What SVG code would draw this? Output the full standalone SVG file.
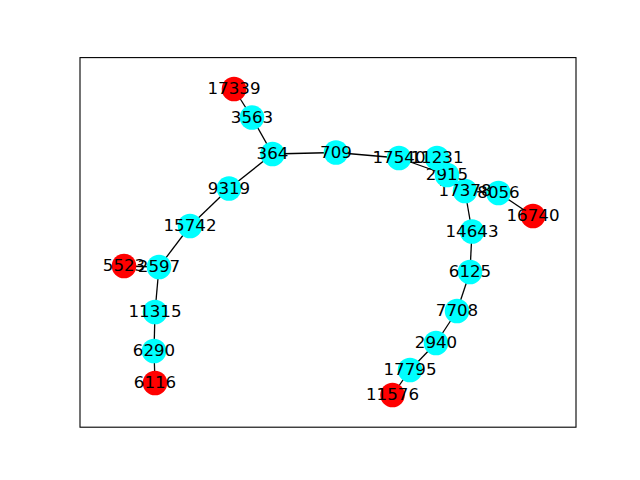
<svg xmlns="http://www.w3.org/2000/svg" width="640" height="480" viewBox="0 0 640 480">
<style>
.e{stroke:#000;stroke-width:1.3;fill:none}
.c{fill:#00ffff}
.r{fill:#ff0000}
text{font-family:"DejaVu Sans","Liberation Sans",sans-serif;font-size:16.67px;fill:#000;text-anchor:middle}
</style>
<rect x="0" y="0" width="640" height="480" fill="#fff"/>
<rect x="80" y="57.6" width="496" height="369.6" fill="none" stroke="#000" stroke-width="1.1"/>
<g id="edges">
<line class="e" x1="234" y1="89" x2="252" y2="117.5"/>
<line class="e" x1="252" y1="117.5" x2="272.5" y2="154"/>
<line class="e" x1="272.5" y1="154" x2="336" y2="152.5"/>
<line class="e" x1="272.5" y1="154" x2="229" y2="188.5"/>
<line class="e" x1="229" y1="188.5" x2="190" y2="226"/>
<line class="e" x1="190" y1="226" x2="159" y2="267"/>
<line class="e" x1="159" y1="267" x2="124" y2="266"/>
<line class="e" x1="159" y1="267" x2="155" y2="312"/>
<line class="e" x1="155" y1="312" x2="154" y2="351"/>
<line class="e" x1="154" y1="351" x2="155" y2="383"/>
<line class="e" x1="336" y1="152.5" x2="399" y2="158"/>
<line class="e" x1="399" y1="158" x2="447" y2="175"/>
<line class="e" x1="437" y1="158" x2="447" y2="175"/>
<line class="e" x1="447" y1="175" x2="465" y2="191"/>
<line class="e" x1="465" y1="191" x2="498.5" y2="193"/>
<line class="e" x1="498.5" y1="193" x2="533" y2="216"/>
<line class="e" x1="465" y1="191" x2="472" y2="231.5"/>
<line class="e" x1="472" y1="231.5" x2="470" y2="272"/>
<line class="e" x1="470" y1="272" x2="457" y2="311"/>
<line class="e" x1="457" y1="311" x2="436" y2="343"/>
<line class="e" x1="436" y1="343" x2="410" y2="370"/>
<line class="e" x1="410" y1="370" x2="392.5" y2="395"/>
</g>
<g id="n17339"><circle class="r" cx="234" cy="89" r="12.3"/><text x="234" y="94">17339</text></g>
<g id="n3563"><circle class="c" cx="252" cy="117.5" r="12.3"/><text x="252" y="122.5">3563</text></g>
<g id="n364"><circle class="c" cx="272.5" cy="154" r="12.3"/><text x="272.5" y="159">364</text></g>
<g id="n709"><circle class="c" cx="336" cy="152.5" r="12.3"/><text x="336" y="157.5">709</text></g>
<g id="n9319"><circle class="c" cx="229" cy="188.5" r="12.3"/><text x="229" y="193.5">9319</text></g>
<g id="n15742"><circle class="c" cx="190" cy="226" r="12.3"/><text x="190" y="231">15742</text></g>
<g id="n5523"><circle class="r" cx="124" cy="266" r="12.3"/><text x="124" y="271">5523</text></g>
<g id="n2597"><circle class="c" cx="159" cy="267" r="12.3"/><text x="159" y="272">2597</text></g>
<g id="n11315"><circle class="c" cx="155" cy="312" r="12.3"/><text x="155" y="317">11315</text></g>
<g id="n6290"><circle class="c" cx="154" cy="351" r="12.3"/><text x="154" y="356">6290</text></g>
<g id="n6116"><circle class="r" cx="155" cy="383" r="12.3"/><text x="155" y="388">6116</text></g>
<g id="n16740"><circle class="r" cx="533" cy="216" r="12.3"/><text x="533" y="221">16740</text></g>
<g id="n8056"><circle class="c" cx="498.5" cy="193" r="12.3"/><text x="498.5" y="198">8056</text></g>
<g id="n17378"><circle class="c" cx="465" cy="191" r="12.3"/><text x="465" y="196">17378</text></g>
<g id="n2915"><circle class="c" cx="447" cy="175" r="12.3"/><text x="447" y="180">2915</text></g>
<g id="n11231"><circle class="c" cx="437" cy="158" r="12.3"/><text x="437" y="163">11231</text></g>
<g id="n17540"><circle class="c" cx="399" cy="158" r="12.3"/><text x="399" y="163">17540</text></g>
<g id="n14643"><circle class="c" cx="472" cy="231.5" r="12.3"/><text x="472" y="236.5">14643</text></g>
<g id="n6125"><circle class="c" cx="470" cy="272" r="12.3"/><text x="470" y="277">6125</text></g>
<g id="n7708"><circle class="c" cx="457" cy="311" r="12.3"/><text x="457" y="316">7708</text></g>
<g id="n2940"><circle class="c" cx="436" cy="343" r="12.3"/><text x="436" y="348">2940</text></g>
<g id="n17795"><circle class="c" cx="410" cy="370" r="12.3"/><text x="410" y="375">17795</text></g>
<g id="n11576"><circle class="r" cx="392.5" cy="395" r="12.3"/><text x="392.5" y="400">11576</text></g>
</svg>
